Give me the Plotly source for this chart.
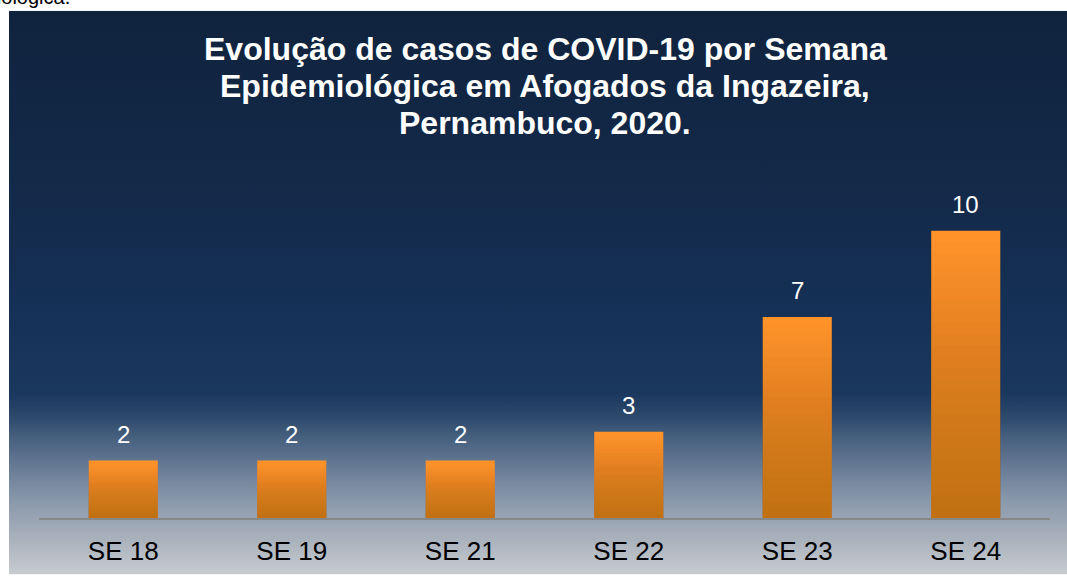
import base64
import plotly.graph_objects as go

# ---- data ----
categories = ["SE 18", "SE 19", "SE 21", "SE 22", "SE 23", "SE 24"]
cases = [2, 2, 2, 3, 7, 10]
title_lines = [
    "Evolução de casos de COVID-19 por Semana",
    "Epidemiológica em Afogados da Ingazeira,",
    "Pernambuco, 2020.",
]

# ---- geometry helpers (pixels) ----
W, H = 1067, 578
ML, MR, MT, MB = 39, 17, 202, 57
PW = W - ML - MR
PH = H - MT - MB
CH_L, CH_T, CH_R, CH_B = 9, 9, 1067, 578


def px_x(x):
    return (x - ML) / PW


def px_y(y):
    return (H - MB - y) / PH


stops = [
    (0.0, "#10233e"), (0.336, "#132a4a"), (0.511, "#153055"), (0.678, "#1a375e"),
    (0.722, "#2e4a6c"), (0.757, "#46607e"), (0.793, "#5d728e"), (0.828, "#72849c"),
    (0.863, "#8696a9"), (0.898, "#97a3b2"), (0.942, "#abb3bd"), (1.0, "#c8ccd1"),
]
stop_xml = "".join(f"<stop offset='{o}' stop-color='{c}'/>" for o, c in stops)
svg = (
    "<svg xmlns='http://www.w3.org/2000/svg' width='1058' height='569' viewBox='0 0 1058 569' "
    "preserveAspectRatio='none'><defs><linearGradient id='g' x1='0' y1='0' x2='0' y2='1'>"
    + stop_xml
    + "</linearGradient></defs><rect width='1058' height='569' fill='url(#g)'/></svg>"
)
bg_src = "data:image/svg+xml;base64," + base64.b64encode(svg.encode()).decode()

FONT = "Arial, Liberation Sans, sans-serif"

fig = go.Figure()
# main bars (bright top colour)
fig.add_trace(
    go.Bar(
        x=categories,
        y=cases,
        marker=dict(color="#ff932a", line=dict(width=0)),
        hoverinfo="skip",
        showlegend=False,
    )
)
# vertical shading of each bar: stacked translucent overlays, darker towards the base
N_SHADE = 24
for k in range(1, N_SHADE + 1):
    frac = 1 - k / (N_SHADE + 1)
    fig.add_trace(
        go.Bar(
            x=categories,
            y=[v * frac for v in cases],
            marker=dict(color="rgba(138,64,16,0.024)", line=dict(width=0)),
            hoverinfo="skip",
            showlegend=False,
        )
    )

annotations = []
for c, v in zip(categories, cases):
    annotations.append(
        dict(
            x=c, y=v, xref="x", yref="y", text=str(v), showarrow=False,
            yanchor="bottom", yshift=11,
            font=dict(family=FONT, size=24, color="white"),
        )
    )

# title, one annotation per line (bottom edge of each line box in pixels)
title_bottoms = [67.5, 104.8, 142.0]
for line, yb in zip(title_lines, title_bottoms):
    annotations.append(
        dict(
            x=px_x(545), y=px_y(yb), xref="paper", yref="paper", text="<b>" + line + "</b>",
            showarrow=False, xanchor="center", yanchor="bottom",
            font=dict(family=FONT, size=32, color="white"),
        )
    )

# cropped text from the surrounding document
annotations.append(
    dict(
        x=px_x(72), y=px_y(8), xref="paper", yref="paper", text="Epidemiológica.",
        showarrow=False, xanchor="right", yanchor="bottom",
        font=dict(family=FONT, size=20, color="black"),
    )
)

fig.update_layout(
    width=W, height=H, autosize=False,
    margin=dict(l=ML, r=MR, t=MT, b=MB),
    paper_bgcolor="white", plot_bgcolor="rgba(0,0,0,0)",
    showlegend=False,
    barmode="overlay",
    bargap=0.59,
    xaxis=dict(
        showgrid=False, zeroline=False, showline=True, linecolor="#878787", linewidth=1.5,
        ticks="", ticklabelstandoff=9,
        tickfont=dict(family=FONT, size=26, color="black"), fixedrange=True,
    ),
    yaxis=dict(range=[0, 11], visible=False, showgrid=False, zeroline=False, fixedrange=True),
    images=[
        dict(
            source=bg_src, xref="paper", yref="paper",
            x=px_x(CH_L), y=px_y(CH_T),
            sizex=(CH_R - CH_L) / PW, sizey=(CH_B - CH_T) / PH,
            xanchor="left", yanchor="top", sizing="stretch", layer="below",
        )
    ],
    annotations=annotations,
)

fig.write_html(
    "out.html",
    config={"displayModeBar": False},
    post_script="document.body.style.margin='0';document.body.style.overflow='hidden';",
)
